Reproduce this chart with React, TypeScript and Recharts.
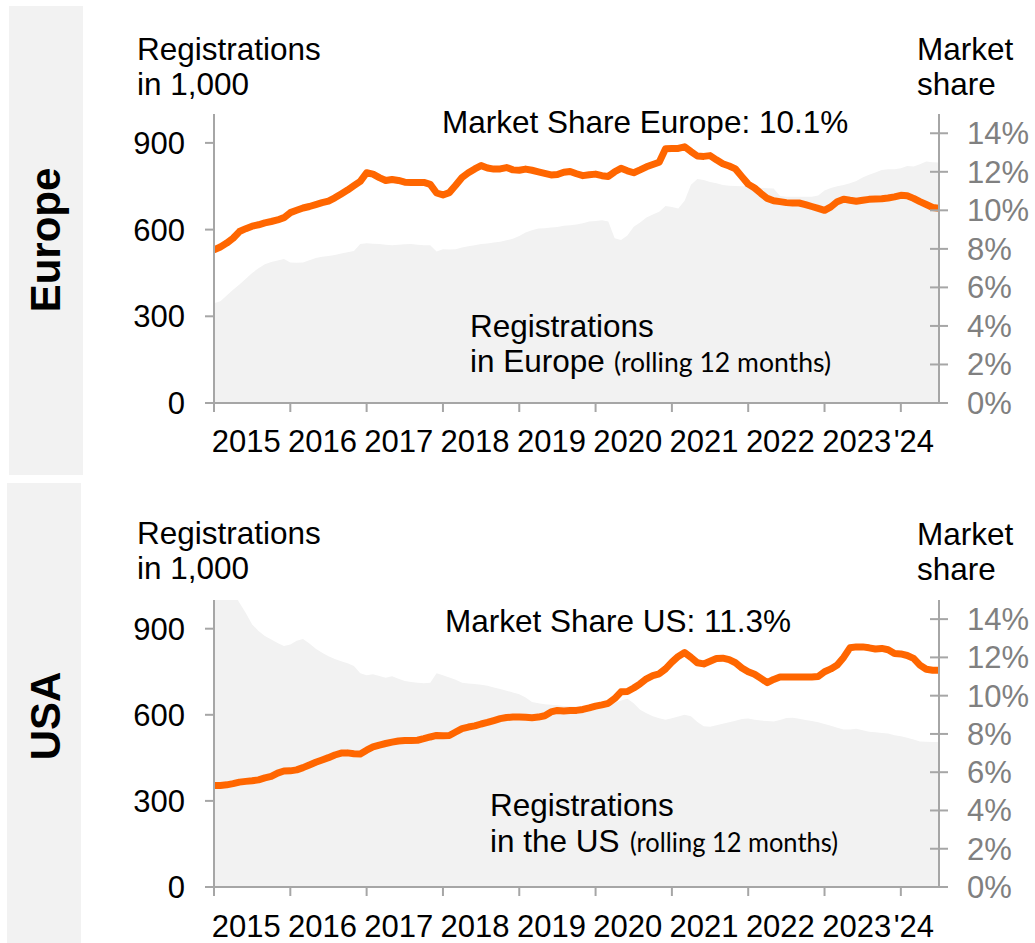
import React from 'react';
import { ComposedChart, Area, Line, XAxis, YAxis } from 'recharts';

// ---------- data ----------
const LAST_INDEX = 114; // months since Jan 2015 (Jan 2015 .. Jul 2024)
const YEAR_TICKS = [0, 12, 24, 36, 48, 60, 72, 84, 96, 108];
const YEAR_LABELS = ['2015', '2016', '2017', '2018', '2019', '2020', '2021', '2022', '2023', "'24"];
const LEFT_TICKS = [0, 300, 600, 900];
const RIGHT_TICKS = [0, 2, 4, 6, 8, 10, 12, 14];

const EUROPE_REG = [
  345, 352, 372, 392, 410, 430, 450, 466, 480, 488, 493, 498,
  486, 485, 486, 494, 502, 506, 509, 512, 517, 522, 526, 550,
  553, 551, 550, 548, 546, 548, 549, 550, 548, 546, 546, 524,
  532, 531, 532, 538, 542, 546, 550, 552, 555, 558, 563, 568,
  578, 590, 598, 604, 605, 607, 609, 613, 615, 618, 622, 628,
  630, 632, 628, 570, 564, 580, 610, 625, 642, 652, 662, 682,
  678, 673, 700, 755, 775, 772, 765, 760, 754, 752, 751, 750,
  749, 747, 745, 743, 742, 716, 714, 714, 714, 714, 714, 718,
  735, 744, 750, 754, 760, 768, 780, 790, 798, 806, 809, 809,
  812, 820, 818, 826, 836, 833, 832,
];
const EUROPE_SHARE = [
  7.95, 8.1, 8.3, 8.55, 8.9, 9.05, 9.18, 9.25, 9.35, 9.42, 9.5, 9.62,
  9.88, 10.0, 10.12, 10.2, 10.3, 10.4, 10.48, 10.65, 10.85, 11.05, 11.28, 11.5,
  11.95, 11.88, 11.7, 11.55, 11.6, 11.55, 11.46, 11.45, 11.45, 11.45, 11.35, 10.9,
  10.8, 10.92, 11.3, 11.7, 11.95, 12.15, 12.32, 12.2, 12.14, 12.15, 12.22, 12.1,
  12.08, 12.14, 12.08, 12.0, 11.92, 11.84, 11.86, 11.98, 12.02, 11.9, 11.8, 11.85,
  11.88, 11.8, 11.76, 12.0, 12.18, 12.05, 11.95, 12.1, 12.26, 12.38, 12.5, 13.2,
  13.21, 13.21, 13.3, 13.05, 12.82, 12.8, 12.84, 12.62, 12.42, 12.3, 12.15, 11.75,
  11.36, 11.16, 10.88, 10.62, 10.5, 10.45, 10.4, 10.38, 10.38, 10.3, 10.2, 10.1,
  10.0, 10.18, 10.45, 10.58, 10.52, 10.47, 10.52, 10.57, 10.59, 10.6, 10.64, 10.7,
  10.78, 10.76, 10.62, 10.45, 10.3, 10.15, 10.1,
];

const US_REG = [
  1130, 1100, 1065, 1030, 990, 955, 915, 892, 875, 862, 850, 840,
  845, 858, 864, 848, 830, 816, 804, 794, 787, 780, 770, 745,
  738, 741, 735, 729, 734, 726, 718, 714, 712, 710, 712, 745,
  738, 730, 722, 712, 709, 707, 705, 701, 695, 690, 684, 678,
  672, 660, 645, 640, 637, 635, 633, 631, 629, 629, 629, 629,
  629, 629, 636, 642, 650, 656, 640, 618, 605, 595, 588, 583,
  588, 594, 600, 595, 575, 560, 558, 564, 569, 574, 579, 585,
  587, 583, 580, 578, 577, 582, 589, 590, 586, 582, 578, 574,
  568, 562, 555, 549, 549, 551, 546, 541, 539, 537, 535, 529,
  525, 520, 514, 507, 506, 505, 505,
];
const US_SHARE = [
  5.3, 5.31, 5.34, 5.4, 5.48, 5.52, 5.55, 5.6, 5.7, 5.78, 5.95, 6.06,
  6.07, 6.12, 6.24, 6.38, 6.52, 6.64, 6.76, 6.9, 7.0, 7.01, 6.96, 6.95,
  7.15, 7.32, 7.42, 7.5, 7.57, 7.63, 7.66, 7.66, 7.67, 7.75, 7.84, 7.92,
  7.9, 7.92, 8.1, 8.28, 8.36, 8.42, 8.52, 8.6, 8.7, 8.8, 8.86, 8.88,
  8.88, 8.87, 8.85, 8.88, 8.95, 9.15, 9.23, 9.2, 9.22, 9.23, 9.28, 9.36,
  9.45, 9.52, 9.6, 9.85, 10.2, 10.22, 10.4, 10.62, 10.88, 11.05, 11.14, 11.4,
  11.75, 12.05, 12.25, 12.0, 11.72, 11.66, 11.8, 11.94, 11.96, 11.88, 11.72, 11.45,
  11.25, 11.12, 10.9, 10.68, 10.85, 10.98, 10.98, 10.98, 10.98, 10.98, 10.98, 11.0,
  11.25, 11.4, 11.6, 12.0, 12.5, 12.55, 12.55, 12.5, 12.44, 12.47, 12.4, 12.2,
  12.18, 12.1, 11.95, 11.6, 11.38, 11.33, 11.33,
];

// ---------- styling ----------
const FONT = '"Liberation Sans", Arial, Helvetica, sans-serif';
const AXIS_GRAY = '#a6a6a6';
const ORANGE = '#ff6600';
const FILL_GRAY = '#f2f2f2';
const CHART_W = 1035;
const MARGIN_LEFT = 154;
const LEFT_AXIS_W = 60;
const RIGHT_AXIS_W = 90;
const MARGIN_RIGHT = 6;
const PLOT_W = CHART_W - MARGIN_LEFT - LEFT_AXIS_W - RIGHT_AXIS_W - MARGIN_RIGHT;
const TEXT_SIZE = 31.5;

function buildRows(reg: number[], share: number[]) {
  return reg.map((v, i) => ({ m: i, reg: v, share: share[i] }));
}

function makeYearTick(labelDy: number) {
  return (props: any) => {
    const { x, y, payload } = props;
    const v = payload.value as number;
    const k = YEAR_TICKS.indexOf(v);
    const span = Math.min(12, LAST_INDEX - v);
    const pxPerMonth = PLOT_W / LAST_INDEX;
    return (
      <text
        x={x + (span * pxPerMonth) / 2 - 6}
        y={y + labelDy}
        textAnchor="middle"
        fontSize={31}
        fontFamily={FONT}
        fill="#000"
      >
        {YEAR_LABELS[k]}
      </text>
    );
  };
}

const EmptyTick = () => <g />;

type PanelProps = {
  rows: { m: number; reg: number; share: number }[];
  top: number;
  height: number;
  marginTop: number;
  marginBottom: number;
  labelDy: number;
};

function Panel({ rows, top, height, marginTop, marginBottom, labelDy }: PanelProps) {
  const axisLine = { stroke: AXIS_GRAY, strokeWidth: 2 };
  return (
    <div style={{ position: 'absolute', left: 0, top, width: CHART_W, height }}>
      <ComposedChart
        width={CHART_W}
        height={height}
        data={rows}
        margin={{ top: marginTop, right: MARGIN_RIGHT, bottom: marginBottom, left: MARGIN_LEFT }}
      >
        <XAxis
          dataKey="m"
          type="number"
          domain={[0, LAST_INDEX]}
          ticks={YEAR_TICKS}
          interval={0}
          allowDataOverflow
          height={50}
          tickSize={9}
          tickMargin={2}
          axisLine={axisLine}
          tickLine={axisLine}
          tick={makeYearTick(labelDy)}
        />
        <YAxis
          yAxisId="reg"
          domain={[0, 1000]}
          allowDataOverflow
          ticks={LEFT_TICKS}
          interval={0}
          width={LEFT_AXIS_W}
          tickSize={9}
          tickMargin={20}
          axisLine={axisLine}
          tickLine={axisLine}
          tick={{ fontSize: 31, fontFamily: FONT, fill: '#000' }}
        />
        <YAxis
          yAxisId="share"
          orientation="right"
          domain={[0, 15]}
          allowDataOverflow
          ticks={RIGHT_TICKS}
          interval={0}
          width={RIGHT_AXIS_W}
          tickSize={9}
          tickMargin={19}
          axisLine={axisLine}
          tickLine={axisLine}
          tickFormatter={(v: number) => `${v}%`}
          tick={{ fontSize: 31, fontFamily: FONT, fill: '#808080' }}
        />
        <YAxis
          yAxisId="shareInner"
          orientation="right"
          mirror
          domain={[0, 15]}
          allowDataOverflow
          ticks={RIGHT_TICKS}
          interval={0}
          width={1}
          tickSize={9}
          axisLine={false}
          tickLine={axisLine}
          tick={EmptyTick}
        />
        <Area
          yAxisId="reg"
          dataKey="reg"
          type="linear"
          fill={FILL_GRAY}
          fillOpacity={1}
          stroke="none"
          isAnimationActive={false}
        />
        <Line
          yAxisId="share"
          dataKey="share"
          type="linear"
          stroke={ORANGE}
          strokeWidth={7}
          strokeLinejoin="round"
          strokeLinecap="round"
          dot={false}
          activeDot={false}
          isAnimationActive={false}
        />
      </ComposedChart>
    </div>
  );
}

const T = ({ x, y, children, size = TEXT_SIZE, fill = '#000' }: any) => (
  <text x={x} y={y} fontSize={size} fontFamily={FONT} fill={fill}>
    {children}
  </text>
);

export default function App() {
  const europeRows = buildRows(EUROPE_REG, EUROPE_SHARE);
  const usRows = buildRows(US_REG, US_SHARE);
  return (
    <div style={{ position: 'absolute', left: 0, top: 0, width: 1035, height: 943, background: '#fff', overflow: 'hidden' }}>
      <Panel rows={europeRows} top={0} height={470} marginTop={114} marginBottom={17} labelDy={38} />
      <Panel rows={usRows} top={480} height={463} marginTop={120} marginBottom={6} labelDy={39} />
      <svg
        width={1035}
        height={943}
        style={{ position: 'absolute', left: 0, top: 0, pointerEvents: 'none' }}
      >
        {/* side bars */}
        <rect x={9} y={6} width={74} height={469} fill={FILL_GRAY} />
        <rect x={7} y={483} width={74} height={460} fill={FILL_GRAY} />
        <text
          transform="translate(60,240) rotate(-90)"
          textAnchor="middle"
          fontSize={42}
          fontWeight="bold"
          fontFamily={FONT}
          fill="#000"
        >
          Europe
        </text>
        <text
          transform="translate(60,716) rotate(-90)"
          textAnchor="middle"
          fontSize={42}
          fontWeight="bold"
          fontFamily={FONT}
          fill="#000"
        >
          USA
        </text>

        {/* Europe texts */}
        <T x={137} y={60}>Registrations</T>
        <T x={137} y={95}>in 1,000</T>
        <T x={917} y={60}>Market</T>
        <T x={917} y={95}>share</T>
        <T x={442} y={133}>Market Share Europe: 10.1%</T>
        <T x={470} y={337}>Registrations</T>
        <T x={470} y={372}>in Europe</T>
        <text
          x={614}
          y={372}
          fontSize={26}
          fontFamily="Lato, 'Open Sans', sans-serif"
          fill="#000"
          textLength={217}
          lengthAdjust="spacingAndGlyphs"
        >
          (rolling 12 months)
        </text>

        {/* USA texts */}
        <T x={137} y={544}>Registrations</T>
        <T x={137} y={579}>in 1,000</T>
        <T x={917} y={545}>Market</T>
        <T x={917} y={580}>share</T>
        <T x={445} y={632}>Market Share US: 11.3%</T>
        <T x={490} y={816}>Registrations</T>
        <T x={490} y={852}>in the US</T>
        <text
          x={630}
          y={852}
          fontSize={26}
          fontFamily="Lato, 'Open Sans', sans-serif"
          fill="#000"
          textLength={208}
          lengthAdjust="spacingAndGlyphs"
        >
          (rolling 12 months)
        </text>
      </svg>
    </div>
  );
}
